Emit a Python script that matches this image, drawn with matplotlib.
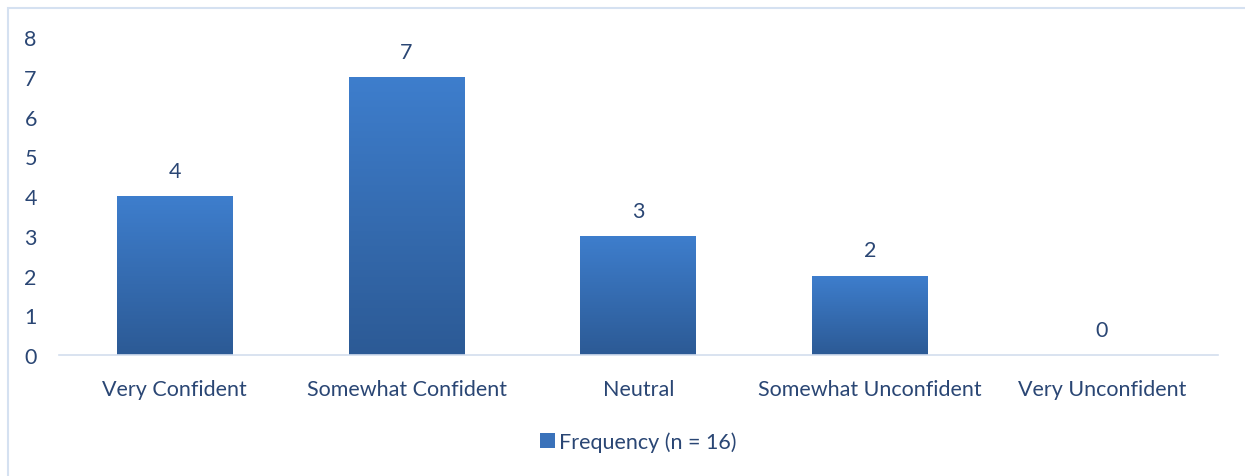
import numpy as np
import matplotlib.pyplot as plt
from matplotlib.patches import Patch, Rectangle

categories = ["Very Confident", "Somewhat Confident", "Neutral",
              "Somewhat Unconfident", "Very Unconfident"]
frequency = [4, 7, 3, 2, 0]
series_name = "Frequency (n = 16)"

text_color = "#2A4674"
top_color = np.array([0x3E, 0x7E, 0xCD]) / 255
bottom_color = np.array([0x2C, 0x5A, 0x95]) / 255

plt.rcParams["font.family"] = ["Lato", "DejaVu Sans"]

fig = plt.figure(figsize=(12.45, 4.77), dpi=100)
ax = fig.add_axes([0.0474, 0.2537, 0.9306, 0.6663])

x = np.arange(len(categories))
bars = ax.bar(x, frequency, width=0.5, color="none", edgecolor="none")

# vertical gradient inside each bar
grad = np.linspace(0, 1, 256)[:, None, None]
img = bottom_color * (1 - grad) + top_color * grad
for b in bars:
    if b.get_height() <= 0:
        continue
    x0, y0 = b.get_x(), b.get_y()
    im = ax.imshow(img, extent=[x0, x0 + b.get_width(), y0, y0 + b.get_height()],
                   origin="lower", aspect="auto", zorder=2)
    im.set_clip_path(b)

for xi, v in zip(x, frequency):
    ax.annotate(str(v), (xi, v), xytext=(0, 11), textcoords="offset points",
                ha="center", va="bottom", fontsize=15.5, color=text_color)

ax.set_xlim(-0.5, len(categories) - 0.5)
ax.set_ylim(0, 8)
ax.set_yticks(range(0, 9))
ax.set_xticks(x)
ax.set_xticklabels(categories)
ax.tick_params(axis="both", length=0, labelsize=15.5, colors=text_color)
ax.tick_params(axis="x", pad=17)
ax.tick_params(axis="y", pad=16)
for s in ["top", "right", "left"]:
    ax.spines[s].set_visible(False)
ax.spines["bottom"].set_color("#D3DEEE")
ax.spines["bottom"].set_linewidth(1.2)

handle = Patch(facecolor="#3A72BA", edgecolor="none")
ax.legend([handle], [series_name], loc="center", bbox_to_anchor=(0.5, -0.273),
          frameon=False, fontsize=15.5, labelcolor=text_color,
          handlelength=0.7, handleheight=0.7, handletextpad=0.2)

# chart area border
fig.patches.append(Rectangle((8 / 1245, -0.1), 1.2, 1 - 9 / 477 + 0.1,
                             transform=fig.transFigure, fill=False,
                             edgecolor="#D5E1F1", linewidth=1.5))

fig.savefig("out.png", dpi=100)
